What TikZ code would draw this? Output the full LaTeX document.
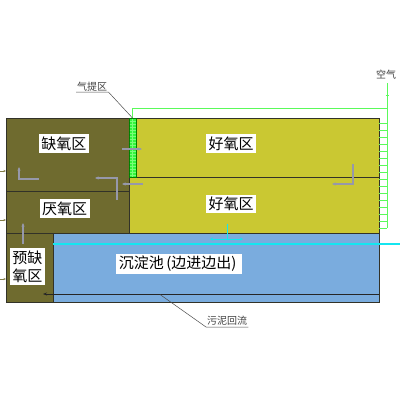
\documentclass[tikz,border=0pt]{standalone}
\usepackage{fontspec}
\newfontfamily\cjk{Noto Sans CJK SC}
\usetikzlibrary{arrows.meta}
\definecolor{oliveA}{RGB}{111,107,47}
\definecolor{yellowA}{RGB}{202,200,50}
\definecolor{blueA}{RGB}{122,172,222}
\definecolor{greenA}{RGB}{50,245,60}
\definecolor{greenGrid}{RGB}{120,255,120}
\definecolor{airG}{RGB}{90,250,90}
\definecolor{cyanA}{RGB}{20,230,240}
\definecolor{grayA}{RGB}{150,152,170}
\definecolor{edgeA}{RGB}{50,50,40}
\definecolor{tickA}{RGB}{130,125,70}
\tikzset{
  blk/.style={draw=edgeA, line width=0.6pt, inner sep=0pt, outer sep=0pt, anchor=north west},
  lbl/.style={fill=white, inner sep=2.5pt, font=\cjk\fontsize{15}{18}\selectfont, align=center},
  small/.style={inner sep=1pt, font=\cjk\fontsize{10}{12}\selectfont, text=black!75},
  air/.style={draw=airG, line width=1pt},
  flow/.style={draw=grayA, line width=1.1pt, -{Stealth[length=3.5pt,width=3pt]}},
  leader/.style={draw=black!70, line width=0.5pt},
  cyanline/.style={draw=cyanA, line width=1.3pt},
  edgetick/.style={draw=tickA, line width=0.7pt, -{Stealth[length=2.5pt,width=2pt]}}
}
\begin{document}
\begin{tikzpicture}[x=1pt,y=-1pt]
\useasboundingbox (0,0) rectangle (400,400);
% blocks
\node[blk, fill=oliveA, minimum width=123, minimum height=73] (anox) at (6,118) {};
\node[blk, fill=oliveA, minimum width=123, minimum height=42] (anaer) at (6,191) {};
\node[blk, fill=oliveA, minimum width=47, minimum height=69] (pre) at (6,233) {};
\node[blk, fill=yellowA, minimum width=243, minimum height=59] (aer1) at (136,118) {};
\node[blk, fill=yellowA, minimum width=250, minimum height=56] (aer2) at (129,177) {};
\node[blk, fill=blueA, minimum width=326, minimum height=69] (clar) at (53,233) {};
\node[blk, fill=greenA, draw=green!50!black, line width=0.4pt, minimum width=7, minimum height=59] (strip) at (129,118) {};
\foreach \y in {121,124,...,175} \draw[greenGrid, line width=0.4pt] (129.5,\y) -- (135.5,\y);
\draw[greenGrid, line width=0.4pt] (132.5,118.5) -- (132.5,176.5);
% air pipe
\coordinate (corner) at (387,108);
\coordinate (airtop) at (387,83);
\coordinate (airbot) at (387,228);
\draw[air] (strip.north) |- (corner);
\draw[air] (airtop) -- (airbot);
\draw[air, line width=0.6pt] (385.5,95) -- (388.5,95);
\foreach \i in {0,...,15} \draw[air, line width=0.8pt] (379,123+7*\i) -- (387,123+7*\i);
\node[small] (airlbl) at (386,75) {空气};
% labels
\node[lbl] (t1) at (64,143.5) {缺氧区};
\node[lbl] (t2) at (231,143.5) {好氧区};
\node[lbl] (t3) at (64.5,208.5) {厌氧区};
\node[lbl] (t4) at (231,204) {好氧区};
\node[lbl] (t5) at (27.5,266.5) {预缺\\氧区};
\node[lbl] (t6) at (179,264) {沉淀池\,(边进边出)\,};
% cyan effluent
\coordinate (cyL) at (53,244);
\coordinate (cyR) at (400,244);
\draw[cyanline] (cyL) -- (cyR);
\coordinate (tTop) at (227,224);
\coordinate (tMid) at (227,239);
\coordinate (tL) at (210,239);
\coordinate (tR) at (243,239);
\draw[draw=cyanA, line width=1pt] (tTop) -- (tMid);
\draw[draw=cyanA, line width=1pt, {Stealth[length=3pt,width=3pt]}-{Stealth[length=3pt,width=3pt]}] (tL) -- (tR);
% sludge return
\coordinate (sR) at (379,294);
\coordinate (sL) at (43,294);
\draw[black!85, line width=0.9pt, -{Stealth[length=4pt,width=3pt]}] (sR) -- (sL);
\coordinate (sl1) at (160,294.5);
\node[small, anchor=south west] (sludge) at (206,327) {污泥回流};
\draw[leader] (sl1) -- (sludge.south west) -- (sludge.south east);
% stripping label
\node[small, anchor=south west] (strlbl) at (76,92) {气提区};
\draw[leader] (strlbl.south west) -- (strlbl.south east) -- (strip.north);
% gray flow arrows
\coordinate (f1a) at (122,149); \coordinate (f1b) at (142,149);
\draw[flow] (f1a) -- (f1b);
\coordinate (f2a) at (143,184); \coordinate (f2b) at (122,184);
\draw[flow] (f2a) -- (f2b);
\coordinate (f3a) at (39,179); \coordinate (f3b) at (19,167);
\draw[flow] (f3a) -| (f3b);
\coordinate (f4a) at (117,200); \coordinate (f4b) at (95,178);
\draw[flow] (f4a) |- (f4b);
\coordinate (f5a) at (353,164); \coordinate (f5b) at (332,184);
\draw[flow] (f5a) |- (f5b);
\coordinate (f6a) at (23,244); \coordinate (f6b) at (23,223);
\draw[flow] (f6a) -- (f6b);
% inlet ticks on left edge
\foreach \y/\n in {171/a,220/b,279/c} {
  \coordinate (in\n) at (0,\y);
  \draw[edgetick] (in\n) -- (6,\y);
}
\end{tikzpicture}
\end{document}
